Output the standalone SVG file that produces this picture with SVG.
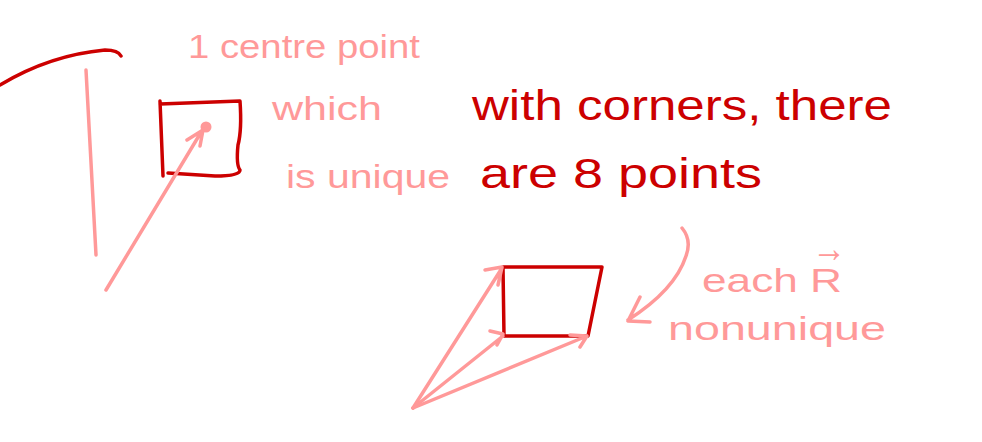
<svg xmlns="http://www.w3.org/2000/svg" width="982" height="442" viewBox="0 0 982 442">
<style>
.dark{fill:none;stroke:#cc0000;stroke-width:3.5;stroke-linecap:round;stroke-linejoin:round}
.pink{fill:none;stroke:#ff9999;stroke-width:3.5;stroke-linecap:round;stroke-linejoin:round}
.tp{fill:#ff9999;font-family:"Liberation Sans",Arial,sans-serif}
.td{fill:#cc0000;font-family:"Liberation Sans",Arial,sans-serif}
</style>
<rect width="982" height="442" fill="#ffffff"/>
<g id="arc"><path class="dark" d="M0,85 Q50,55 105,50 Q118,50 121,56"/></g>
<g id="vline"><path class="pink" d="M86,70 L96,255"/></g>
<g id="square1">
<path class="dark" d="M160,101 L163,176 M160,104 L240,101 Q242,130 238,145 Q236,165 240,170 Q240,176 215,176 L168,173"/>
<circle cx="206" cy="127" r="5.5" fill="#ff9999"/>
</g>
<g id="quad">
<path class="dark" d="M503,267 L602,267 L588,336 L504,336 Z"/>
</g>
<g id="connectors">
<path class="pink" d="M106,290 L203,129 M187,140 L203,130 L200,146"/>
<path class="pink" d="M413,408 L502,268 M485,270 L502,267 L498,285"/>
<path class="pink" d="M413,408 L503,336 M490,331 L503,334 L497,345"/>
<path class="pink" d="M413,408 L587,336 M570,335 L587,336 L580,347"/>
<path class="pink" d="M682,228 Q692,240 686,256 Q675,290 628,320 M640,297 L628,321 L650,322"/>
</g>
<g id="label-centre">
<text class="tp" x="188" y="58" font-size="34" textLength="232" lengthAdjust="spacingAndGlyphs">1 centre point</text>
<text class="tp" x="272" y="120" font-size="34" textLength="110" lengthAdjust="spacingAndGlyphs">which</text>
<text class="tp" x="286" y="188" font-size="34" textLength="164" lengthAdjust="spacingAndGlyphs">is unique</text>
</g>
<g id="label-corners">
<text class="td" x="472" y="120" font-size="42" textLength="420" lengthAdjust="spacingAndGlyphs">with corners, there</text>
<text class="td" x="480" y="188" font-size="42" textLength="282" lengthAdjust="spacingAndGlyphs">are 8 points</text>
</g>
<g id="label-each">
<text class="tp" x="702" y="292" font-size="34" textLength="140" lengthAdjust="spacingAndGlyphs">each R</text>
<text class="tp" x="812" y="262" font-size="40" font-weight="bold" textLength="34" lengthAdjust="spacingAndGlyphs">→</text>
<text class="tp" x="668" y="340" font-size="34" textLength="218" lengthAdjust="spacingAndGlyphs">nonunique</text>
</g>
</svg>
